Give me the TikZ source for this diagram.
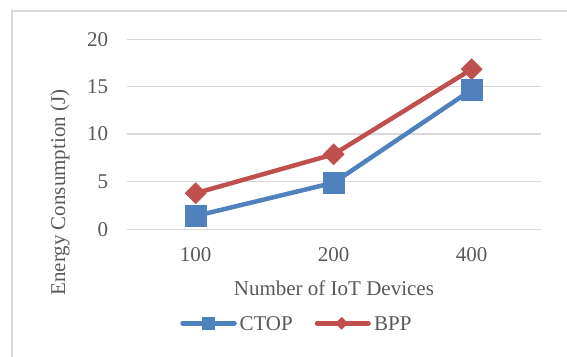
\documentclass[tikz,border=0pt]{standalone}
\usepackage{fontspec}
\setmainfont{Liberation Serif}
\usetikzlibrary{shapes.geometric}
\definecolor{ctopblue}{HTML}{4F81BD}
\definecolor{bppred}{HTML}{C0504D}
\definecolor{gridgray}{HTML}{D9D9D9}
\definecolor{labelgray}{HTML}{595959}
\tikzset{
  lbl/.style={inner sep=0pt, text=labelgray, font=\fontsize{21}{25}\selectfont},
  gridline/.style={draw=gridgray, line width=1.5pt},
  series/.style={line width=4.5pt, line join=round},
  sqmark/.style={rectangle, fill=ctopblue, minimum size=22pt, inner sep=0pt},
  dmmark/.style={diamond, fill=bppred, minimum size=22pt, inner sep=0pt},
  sqkey/.style={rectangle, fill=ctopblue, minimum size=13pt, inner sep=0pt},
  dmkey/.style={diamond, fill=bppred, minimum size=13pt, inner sep=0pt},
}
\begin{document}
\begin{tikzpicture}[x=1pt, y=-1pt]
  \useasboundingbox (0,0) rectangle (567,356);
  % chart frame
  \draw[draw=gridgray, line width=1.8pt] (12,360) -- (12,10.7) -- (570,10.7);
  % horizontal gridlines and value labels
  \foreach \v/\yy in {0/229.3, 5/181.7, 10/134, 15/86.7, 20/39.3} {
    \draw[gridline] (126.7,\yy) -- (540.7,\yy);
    \node[lbl, anchor=east] (ytick\v) at (108.3,\yy) {\v};
  }
  % category labels
  \node[lbl] (xtick100) at (195.7,255) {100};
  \node[lbl] (xtick200) at (333.7,255) {200};
  \node[lbl] (xtick400) at (471.7,255) {400};
  % axis titles
  \node[lbl] (xtitle) at (333.9,288.3) {Number of IoT Devices};
  \node[lbl, rotate=90] (ytitle) at (60,192.5) {Energy Consumption (J)};
  % data points
  \coordinate (c1) at (195.7,216);
  \coordinate (c2) at (333.7,182.7);
  \coordinate (c3) at (471.7,89.7);
  \coordinate (b1) at (195.7,193.2);
  \coordinate (b2) at (333.7,154.3);
  \coordinate (b3) at (471.7,69.2);
  % series lines
  \draw[series, bppred] (b1) -- (b2) -- (b3);
  \draw[series, ctopblue] (c1) -- (c2) -- (c3);
  % markers
  \node[dmmark] (bm1) at (b1) {};
  \node[dmmark] (bm2) at (b2) {};
  \node[dmmark] (bm3) at (b3) {};
  \node[sqmark] (cm1) at (c1) {};
  \node[sqmark] (cm2) at (c2) {};
  \node[sqmark] (cm3) at (c3) {};
  % legend
  \coordinate (lc0) at (182.5,323.3);
  \coordinate (lc1) at (234.5,323.3);
  \coordinate (lb0) at (317,323.3);
  \coordinate (lb1) at (368.5,323.3);
  \draw[series, ctopblue, line cap=round] (lc0) -- (lc1);
  \node[sqkey] (lcm) at (208.3,323.3) {};
  \node[lbl, anchor=west] (lct) at (239.3,323.3) {CTOP};
  \draw[series, bppred, line cap=round] (lb0) -- (lb1);
  \node[dmkey] (lbm) at (341.7,323.3) {};
  \node[lbl, anchor=west] (lbt) at (374,323.3) {BPP};
\end{tikzpicture}
\end{document}
